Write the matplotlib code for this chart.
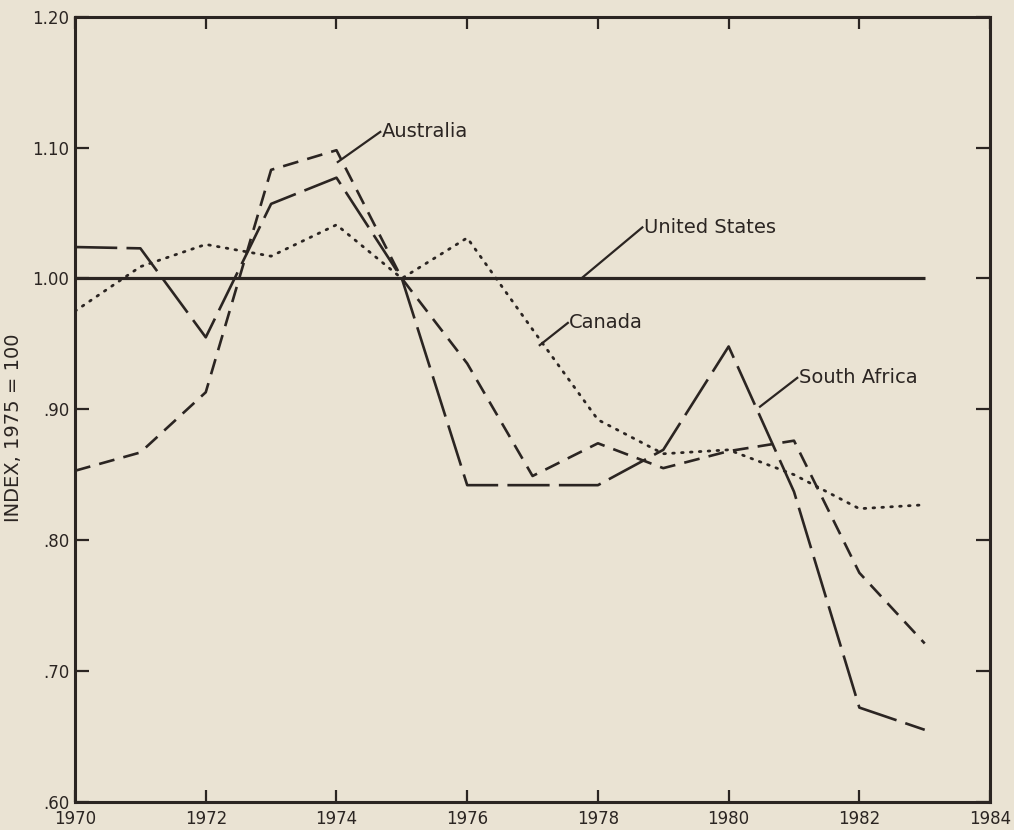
import numpy as np
import matplotlib
matplotlib.use('Agg')
import matplotlib.pyplot as plt

# Datos (índice, 1975 = 1.00)
years = np.arange(1970, 1984)
united_states = [1.00] * 14
canada = [0.975, 1.009, 1.026, 1.017, 1.041, 1.000, 1.031, 0.961,
          0.892, 0.866, 0.869, 0.850, 0.824, 0.827]
australia = [0.853, 0.867, 0.913, 1.083, 1.098, 1.000, 0.935, 0.849,
             0.874, 0.855, 0.868, 0.876, 0.775, 0.721]
south_africa = [1.024, 1.023, 0.955, 1.057, 1.077, 1.000, 0.842, 0.842,
                0.842, 0.869, 0.948, 0.837, 0.672, 0.655]

xticks = np.arange(1970, 1985, 2)
yticks = [0.60, 0.70, 0.80, 0.90, 1.00, 1.10, 1.20]
ytick_labels = ['.60', '.70', '.80', '.90', '1.00', '1.10', '1.20']

bg = '#EAE3D3'
ink = '#2B2522'

fig = plt.figure(figsize=(10.14, 8.30), dpi=100, facecolor=bg)
ax = fig.add_axes([0.074, 0.034, 0.9024, 0.9458], facecolor=bg)

ax.plot(years, united_states, color=ink, lw=2.3, solid_capstyle='butt')
ax.plot(years, canada, color=ink, lw=2.0, linestyle=(0, (0.6, 2.6)),
        dash_capstyle='round')
ax.plot(years, australia, color=ink, lw=1.9, linestyle=(0, (6, 3.5)))
ax.plot(years, south_africa, color=ink, lw=1.9, linestyle=(0, (16, 3.5)))

ax.set_xlim(1970, 1984)
ax.set_ylim(0.60, 1.20)
ax.set_xticks(xticks)
ax.set_xticklabels([str(x) for x in xticks], fontsize=12, color=ink)
ax.set_yticks(yticks)
ax.set_yticklabels(ytick_labels, fontsize=12, color=ink)
ax.tick_params(direction='in', length=8.5, width=1.6, color=ink,
               top=True, right=True)
ax.tick_params(axis='x', pad=6)
ax.tick_params(axis='y', length=10, pad=4)
for s in ax.spines.values():
    s.set_linewidth(2.2)
    s.set_color(ink)
ax.set_ylabel('INDEX, 1975 = 100', fontsize=14, color=ink)
ax.yaxis.set_label_coords(-0.057, 0.477)

# Etiquetas con línea guía
labels = [('Australia', 1974.02, 1.089, 1974.67, 1.112),
          ('United States', 1977.77, 1.001, 1978.68, 1.039),
          ('Canada', 1977.11, 0.949, 1977.54, 0.966),
          ('South Africa', 1980.48, 0.902, 1981.05, 0.924)]
for text, x0, y0, x1, y1 in labels:
    ax.plot([x0, x1], [y0, y1], color=ink, lw=1.6)
    ax.text(x1 + 0.02, y1, text, fontsize=14, color=ink,
            ha='left', va='center')

fig.savefig('out.png', dpi=100, facecolor=bg)
